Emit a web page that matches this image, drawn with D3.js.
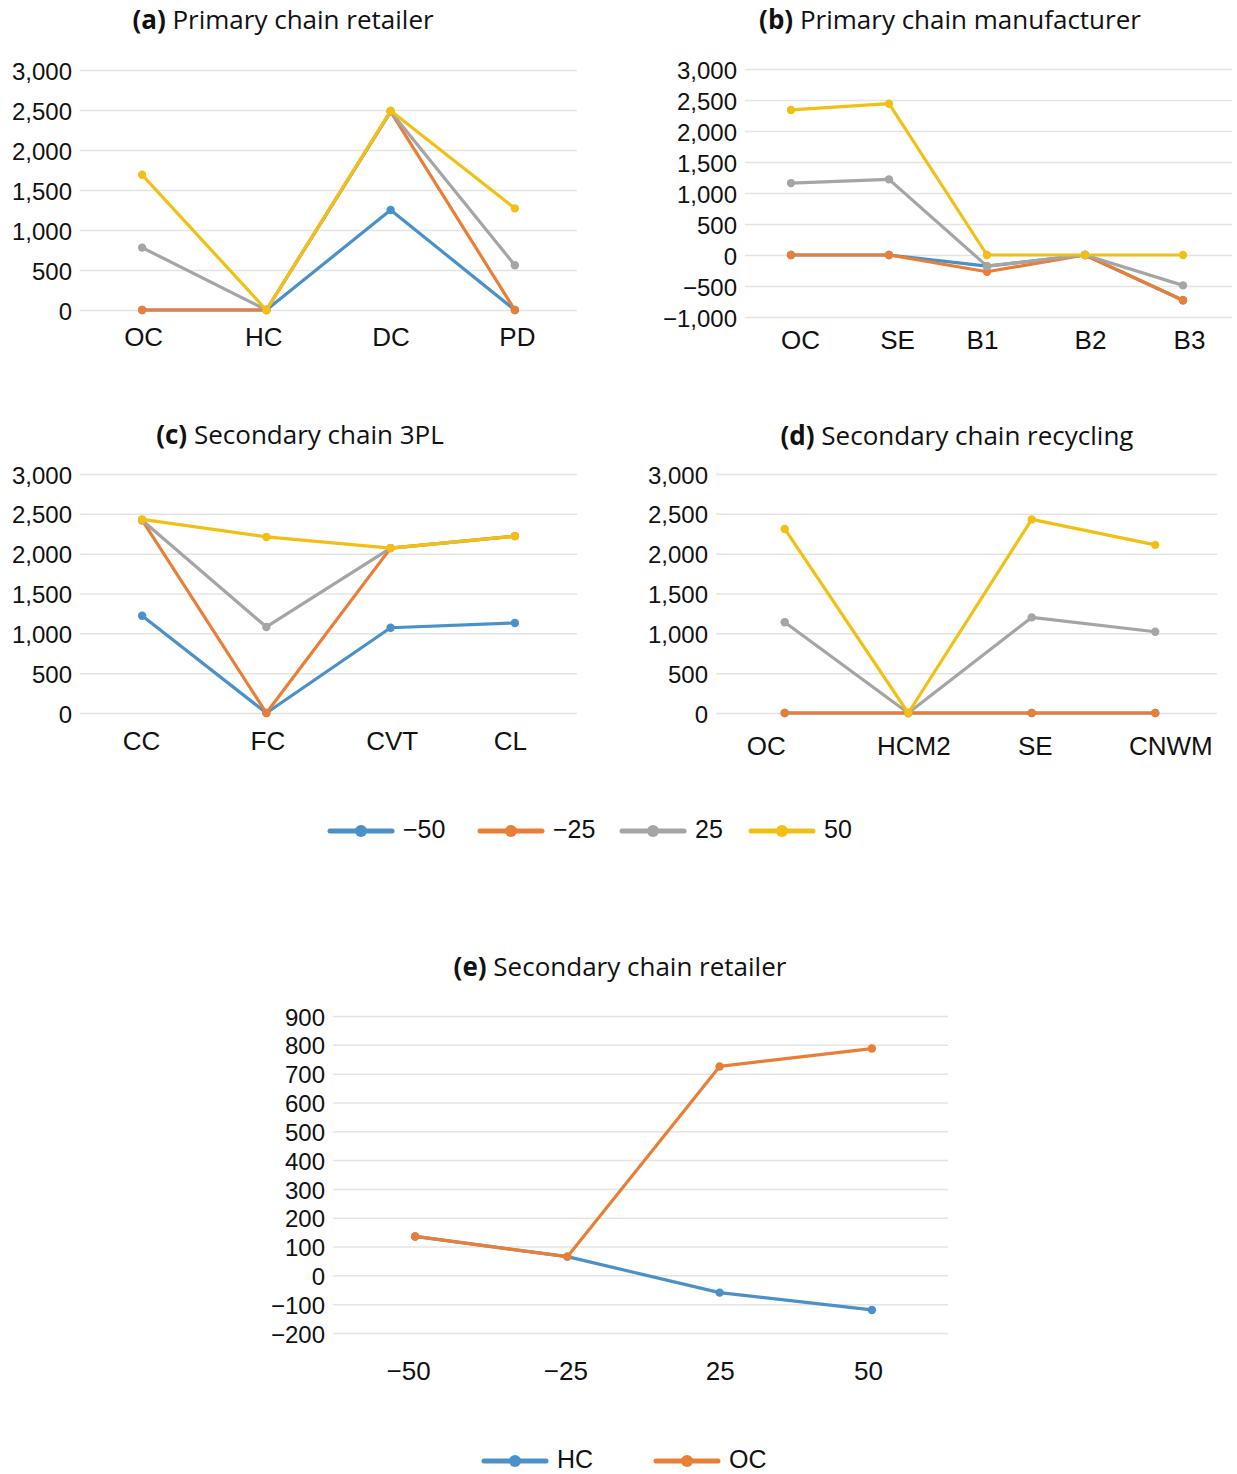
<!DOCTYPE html>
<html><head><meta charset="utf-8">
<script src="https://cdn.jsdelivr.net/npm/d3@7"></script>
<style>
body{margin:0;background:#fff;}
svg{display:block;}
.tick text{font-family:"Liberation Sans",Arial,sans-serif;fill:#111;}
.title{font-family:"Open Sans","Noto Sans",sans-serif;fill:#111;}
.leg{font-family:"Liberation Sans",Arial,sans-serif;fill:#111;font-size:25px;}
</style></head>
<body>
<script>
// ---------- data ----------
const seriesNames = ["\u221250", "\u221225", "25", "50"];
const seriesColors = ["#4a90c9", "#e97f37", "#a5a5a5", "#f2c014"];

const catsA = ["OC", "HC", "DC", "PD"];
const aNeg50 = [0, 0, 1250, 0];
const aNeg25 = [0, 0, 2480, 0];
const aPos25 = [780, 0, 2480, 560];
const aPos50 = [1690, 0, 2490, 1270];
const ticksA = [0, 500, 1000, 1500, 2000, 2500, 3000];

const catsB = ["OC", "SE", "B1", "B2", "B3"];
const bNeg50 = [0, 0, -180, 0, -730];
const bNeg25 = [0, 0, -270, 0, -730];
const bPos25 = [1160, 1220, -180, 0, -490];
const bPos50 = [2340, 2440, 0, 0, 0];
const ticksB = [-1000, -500, 0, 500, 1000, 1500, 2000, 2500, 3000];

const catsC = ["CC", "FC", "CVT", "CL"];
const cNeg50 = [1220, 0, 1070, 1130];
const cNeg25 = [2420, 0, 2070, 2220];
const cPos25 = [2420, 1080, 2070, 2220];
const cPos50 = [2430, 2210, 2070, 2220];
const ticksC = [0, 500, 1000, 1500, 2000, 2500, 3000];

const catsD = ["OC", "HCM2", "SE", "CNWM"];
const dNeg50 = [0, 0, 0, 0];
const dNeg25 = [0, 0, 0, 0];
const dPos25 = [1140, 0, 1200, 1020];
const dPos50 = [2310, 0, 2430, 2110];
const ticksD = [0, 500, 1000, 1500, 2000, 2500, 3000];

const catsE = ["\u221250", "\u221225", "25", "50"];
const eNamesE = ["HC", "OC"];
const eColors = ["#4a90c9", "#e97f37"];
const eHC = [135, 65, -60, -120];
const eOC = [135, 65, 725, 787];
const ticksE = [-200, -100, 0, 100, 200, 300, 400, 500, 600, 700, 800, 900];

// ---------- drawing ----------
const W = 1237, H = 1474;
const svg = d3.select("body").append("svg").attr("width", W).attr("height", H);
const fmt = d3.format(",");

function panel(o) {
  const g = svg.append("g");
  const x = d3.scalePoint().domain(o.cats).range([o.x0, o.x1]).padding(0.5);
  const y = d3.scaleLinear().domain([o.ticks[0], o.ticks[o.ticks.length - 1]]).range([o.yb, o.yt]);

  const ya = g.append("g").attr("transform", `translate(${o.gx0},0)`)
    .call(d3.axisLeft(y).tickValues(o.ticks).tickFormat(fmt).tickSize(-(o.x1 - o.gx0)).tickPadding(o.tp || 8));
  ya.select(".domain").remove();
  ya.selectAll(".tick line").attr("stroke", "#e4e4e4").attr("stroke-width", 1.5);
  ya.selectAll(".tick text").attr("font-size", 24).attr("dy", "0.38em");

  const xa = g.append("g").attr("transform", `translate(0,${o.yb})`)
    .call(d3.axisBottom(x).tickSize(0).tickPadding(o.xp));
  xa.select(".domain").remove();
  xa.selectAll(".tick text").attr("font-size", 26).attr("dx", (d, i) => o.ldx[i]);

  const line = d3.line().x((d, i) => x(o.cats[i])).y(d => y(d));
  o.series.forEach((s, k) => {
    g.append("path").datum(s).attr("d", line).attr("fill", "none")
      .attr("stroke", o.colors[k]).attr("stroke-width", 3.2).attr("stroke-linejoin", "round");
    g.selectAll(null).data(s).enter().append("circle")
      .attr("cx", (d, i) => x(o.cats[i])).attr("cy", d => y(d)).attr("r", 4.2)
      .attr("fill", o.colors[k]);
  });

  const t = svg.append("text").attr("class", "title").attr("x", o.tx).attr("y", o.ty)
    .attr("text-anchor", "middle").attr("font-size", 26).attr("dominant-baseline", "middle");
  t.append("tspan").attr("font-weight", "bold").text(o.tag);
  t.append("tspan").text(" " + o.title);
}

panel({cats: catsA, series: [aNeg50, aNeg25, aPos25, aPos50], colors: seriesColors, ticks: ticksA,
  x0: 80, x1: 577, gx0: 80, yb: 310, yt: 70, xp: 18, ldx: [1, -3, 0, 2],
  tx: 283, ty: 22, tag: "(a)", title: "Primary chain retailer"});
panel({cats: catsB, series: [bNeg50, bNeg25, bPos25, bPos50], colors: seriesColors, ticks: ticksB,
  x0: 742, x1: 1232, gx0: 745, yb: 317, yt: 69, xp: 14, ldx: [9, 8, -5, 5, 6],
  tx: 950, ty: 22, tag: "(b)", title: "Primary chain manufacturer"});
panel({cats: catsC, series: [cNeg50, cNeg25, cPos25, cPos50], colors: seriesColors, ticks: ticksC,
  x0: 80, x1: 577, gx0: 80, yb: 713, yt: 474, xp: 19, ldx: [-1, 1, 1, -5],
  tx: 300, ty: 437, tag: "(c)", title: "Secondary chain 3PL"});
panel({cats: catsD, series: [dNeg50, dNeg25, dPos25, dPos50], colors: seriesColors, ticks: ticksD,
  x0: 723, x1: 1217, gx0: 716, yb: 713, yt: 474, xp: 24, ldx: [-19, 5, 3, 15],
  tx: 957, ty: 438, tag: "(d)", title: "Secondary chain recycling"});
panel({cats: catsE, series: [eHC, eOC], colors: eColors, ticks: ticksE,
  x0: 339, x1: 948, gx0: 333, yb: 1333, yt: 1016, xp: 29, ldx: [-7, -2, 0, -4],
  tx: 620, ty: 969, tag: "(e)", title: "Secondary chain retailer"});

function legend(names, colors, xs, yc) {
  names.forEach((n, i) => {
    const g = svg.append("g").attr("transform", `translate(${xs[i]},${yc})`);
    g.append("line").attr("x1", 0).attr("x2", 62).attr("stroke", colors[i]).attr("stroke-width", 5).attr("stroke-linecap", "round");
    g.append("circle").attr("cx", 31).attr("r", 6).attr("fill", colors[i]);
    g.append("text").attr("class", "leg").attr("x", 73).attr("dominant-baseline", "middle").text(n);
  });
}
legend(seriesNames, seriesColors, [330, 480, 622, 751], 831);
legend(eNamesE, eColors, [484, 656], 1461);
</script>
</body></html>
